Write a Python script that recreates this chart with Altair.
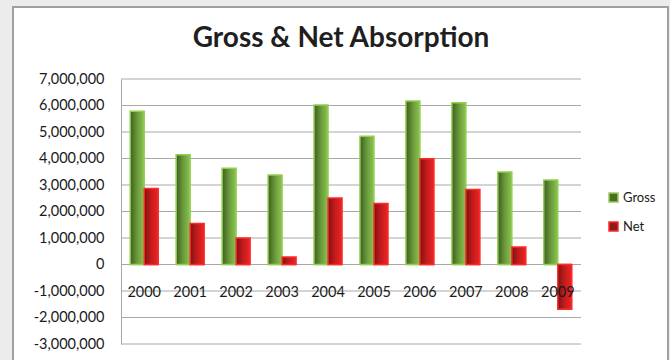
import altair as alt
import pandas as pd

years = ["2000", "2001", "2002", "2003", "2004", "2005", "2006", "2007", "2008", "2009"]
gross = [5780000, 4140000, 3630000, 3380000, 6020000, 4840000, 6170000, 6100000, 3490000, 3190000]
net = [2870000, 1550000, 1000000, 280000, 2510000, 2300000, 3990000, 2830000, 660000, -1690000]
series_names = ["Gross", "Net"]
tick_values = [-3000000, -2000000, -1000000, 0, 1000000, 2000000, 3000000,
               4000000, 5000000, 6000000, 7000000]

df = pd.DataFrame({
    "year": years * 2,
    "series": ["Gross"] * len(years) + ["Net"] * len(years),
    "value": gross + net,
})
grid_df = pd.DataFrame({"value": tick_values})
frame_df = pd.DataFrame({"k": [0]})

GRID = "#a8a8a8"
FONT = "Lato"

x_enc = alt.X(
    "year:N", sort=years,
    scale=alt.Scale(paddingInner=0.39, paddingOuter=0.2),
    axis=alt.Axis(title=None, labelAngle=0, domain=False, ticks=False, grid=False,
                  offset=-79.3, labelPadding=21, labelFontSize=14.5, zindex=2,
                  labelOverlap=False, labelColor="#1a1a1a", labelFont=FONT),
)
xoff = alt.XOffset("series:N", scale=alt.Scale(domain=series_names, paddingInner=0, paddingOuter=0))
y_scale = alt.Scale(domain=[-3000000, 7000000], nice=False, zero=False)
y_axis = alt.Axis(title=None, values=tick_values, grid=False, ticks=False, zindex=2,
                  domainColor=GRID, domainWidth=1, labelPadding=17, labelFontSize=14.5,
                  labelOverlap=False, labelColor="#1a1a1a", labelFont=FONT,
                  labelExpr="replace(format(datum.value, ',d'), '\u2212', '-')")
y_enc = alt.Y("value:Q", scale=y_scale, axis=y_axis)

frame = alt.Chart(frame_df).mark_rect(fill="white", stroke="#a0a0a0", strokeWidth=2).encode(
    x=alt.value(-108), x2=alt.value(547), y=alt.value(-72), y2=alt.value(300)
)

grid = alt.Chart(grid_df).mark_rule(color=GRID, strokeWidth=1).encode(y=y_enc)

legend_cfg = dict(title=None, orient="none", legendX=486, legendY=112,
                  symbolType="square", symbolSize=81, symbolStrokeWidth=1.5,
                  labelFontSize=13, labelFont=FONT, labelColor="#1a1a1a",
                  rowPadding=14, labelOffset=3, padding=0)

legend_layer = alt.Chart(df).mark_bar(strokeWidth=1.5).encode(
    x=x_enc, xOffset=xoff,
    y=alt.Y(datum=0, scale=y_scale, axis=y_axis), y2=alt.Y2(datum=0),
    color=alt.Color("series:N", scale=alt.Scale(domain=series_names, range=["#4f6a2a", "#8e1b1b"]),
                    legend=alt.Legend(**legend_cfg)),
    stroke=alt.Stroke("series:N", scale=alt.Scale(domain=series_names, range=["#92d050", "#ff2a2a"]),
                      legend=alt.Legend(**legend_cfg)),
)

green_grad = alt.LinearGradient(
    gradient="linear", x1=0, x2=1, y1=0, y2=0,
    stops=[alt.GradientStop(color="#3f5c22", offset=0),
           alt.GradientStop(color="#6a9a3a", offset=0.5),
           alt.GradientStop(color="#8cc452", offset=1)],
)
red_grad = alt.LinearGradient(
    gradient="linear", x1=0, x2=1, y1=0, y2=0,
    stops=[alt.GradientStop(color="#7e1212", offset=0),
           alt.GradientStop(color="#c41c1c", offset=0.5),
           alt.GradientStop(color="#ec2424", offset=1)],
)

gross_bars = alt.Chart(df).transform_filter(alt.datum.series == "Gross").mark_bar(
    color=green_grad, stroke="#92d050", strokeWidth=1.5
).encode(x=x_enc, xOffset=xoff, y=y_enc)

net_bars = alt.Chart(df).transform_filter(alt.datum.series == "Net").mark_bar(
    color=red_grad, stroke="#ff2a2a", strokeWidth=1.5
).encode(x=x_enc, xOffset=xoff, y=y_enc)

chart = alt.layer(frame, grid, legend_layer, gross_bars, net_bars).properties(
    width=460, height=265,
    autosize=alt.AutoSizeParams(type="none"),
    padding={"left": 121, "top": 79, "right": 89, "bottom": 16},
    background="#ececec",
    title=alt.TitleParams("Gross & Net Absorption", font=FONT, fontSize=28, fontWeight="bold",
                          color="#1f1f1f", anchor="middle", frame="group", dx=-10, offset=-47,
                          zindex=2),
).configure_view(stroke=None)

chart.save("out.html", embed_options={"renderer": "svg", "actions": False})
